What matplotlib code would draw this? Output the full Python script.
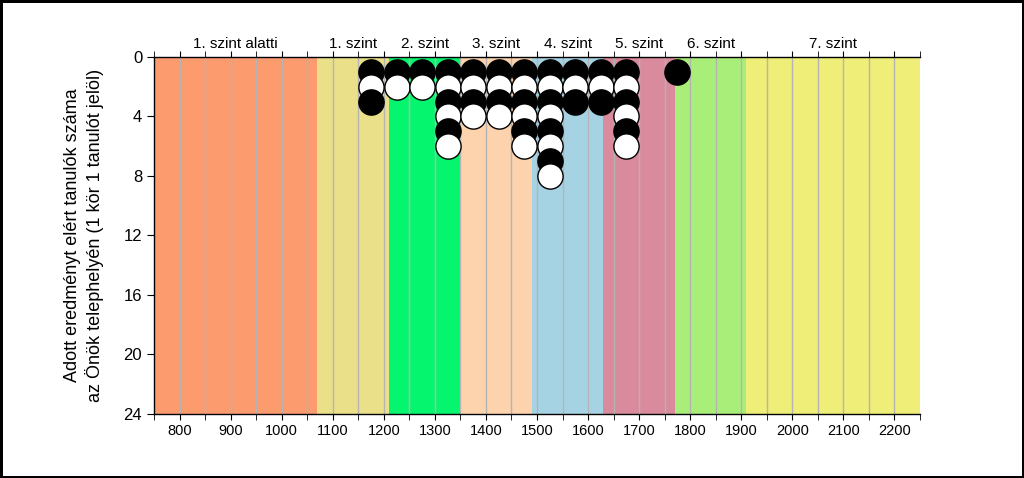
import matplotlib
matplotlib.use('Agg')
import matplotlib.pyplot as plt
from matplotlib.ticker import MultipleLocator

plt.rcParams['font.family'] = ['Liberation Sans', 'DejaVu Sans']

# proficiency levels (score bands)
level_names = ['1. szint alatti', '1. szint', '2. szint', '3. szint',
               '4. szint', '5. szint', '6. szint', '7. szint']
level_edges = [750, 1070, 1210, 1350, 1490, 1630, 1770, 1910, 2250]
level_colors = ['#FC9B6E', '#EAE08A', '#05F56E', '#FDD3AE',
                '#A6D3E4', '#D98A9D', '#A9EE78', '#EEEE78']

# students per score bin (one circle each)
bin_centers = [1175, 1225, 1275, 1325, 1375, 1425, 1475, 1525, 1575, 1625, 1675, 1775]
bin_counts = [3, 2, 2, 6, 4, 4, 6, 8, 3, 3, 6, 1]

y_ticks = [0, 4, 8, 12, 16, 20, 24]

fig = plt.figure(figsize=(10.24, 4.78), dpi=100)
fig.patch.set_edgecolor('black')
fig.patch.set_linewidth(2.5)
ax = fig.add_axes([0.1504, 0.1339, 0.7480, 0.7469])

for i, name in enumerate(level_names):
    ax.axvspan(level_edges[i], level_edges[i + 1], color=level_colors[i], lw=0, zorder=0)
    mid = (level_edges[i] + level_edges[i + 1]) / 2
    ax.text(mid, 1.018, name, transform=ax.get_xaxis_transform(),
            ha='center', va='bottom', fontsize=11)

for x in range(800, 2250, 50):
    ax.axvline(x, color='#b4b4b4', lw=1, zorder=1)

for x, n in zip(bin_centers, bin_counts):
    for k in range(n):
        fc = 'black' if k % 2 == 0 else 'white'
        ax.scatter(x, k + 1, s=330, facecolor=fc, edgecolor='black',
                   linewidth=1, zorder=3, clip_on=False)

ax.set_xlim(level_edges[0], level_edges[-1])
ax.set_ylim(24, 0)
ax.set_yticks(y_ticks)
ax.xaxis.set_major_locator(MultipleLocator(100))
ax.xaxis.set_minor_locator(MultipleLocator(50))
ax.tick_params(axis='x', which='both', top=True, bottom=True, direction='out',
               length=4, labelsize=10.5)
ax.tick_params(axis='y', direction='out', length=5, labelsize=12)

ax.spines['right'].set_visible(False)
for s in ['left', 'top', 'bottom']:
    ax.spines[s].set_linewidth(1)

ax.set_ylabel('Adott eredményt elért tanulók száma\naz Önök telephelyén (1 kör 1 tanulót jelöl)',
              fontsize=13, labelpad=14, linespacing=1.3)

fig.savefig('out.png', dpi=100, edgecolor=fig.get_edgecolor())
